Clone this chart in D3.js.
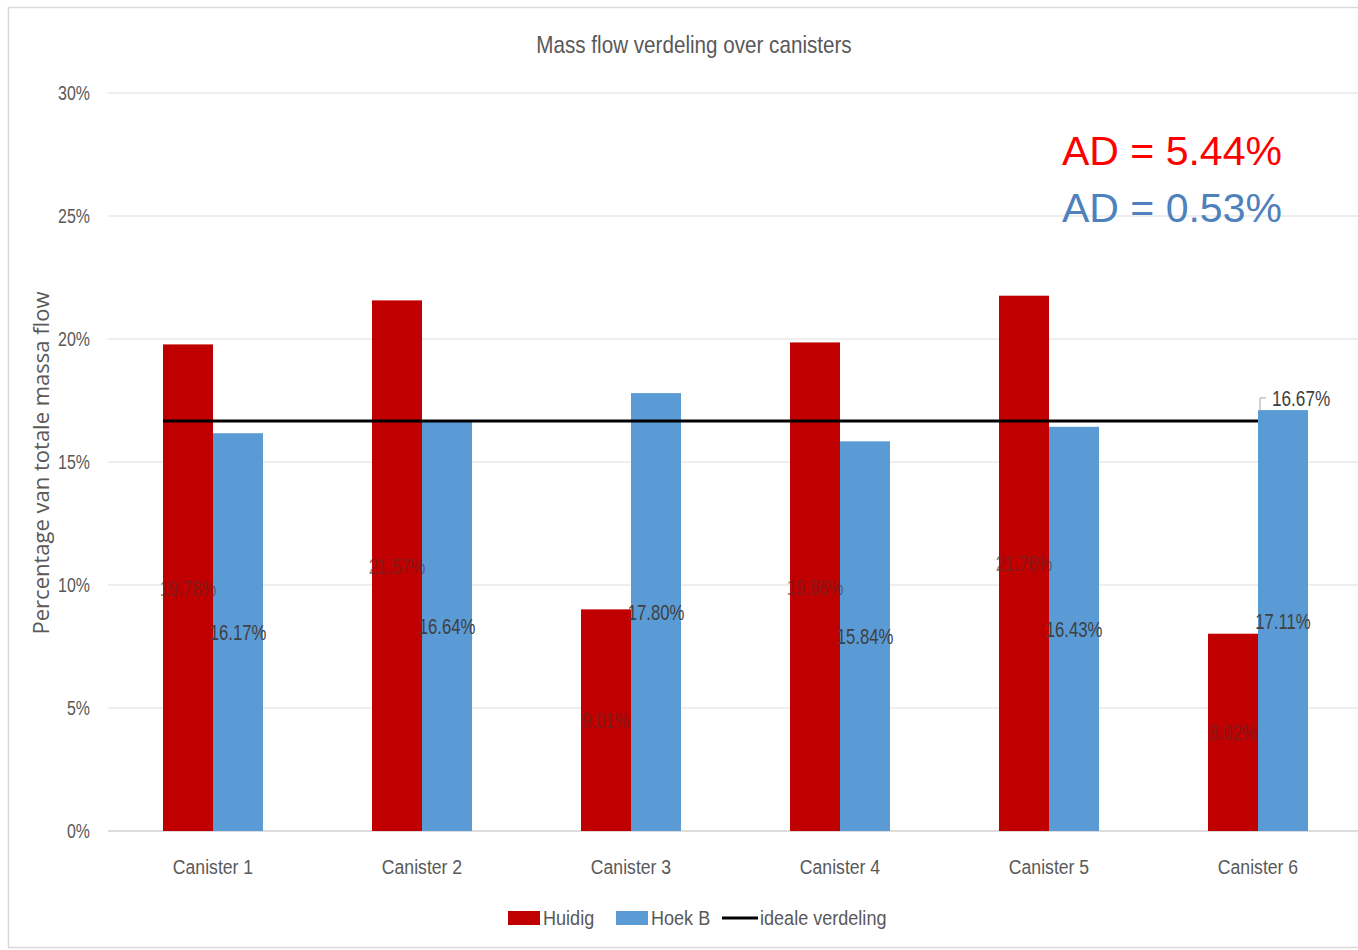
<!DOCTYPE html>
<html>
<head>
<meta charset="utf-8">
<script src="https://cdn.jsdelivr.net/npm/d3@7"></script>
<style>
  body { margin: 0; background: #fff; }
  text { font-family: "Liberation Sans", sans-serif; }
</style>
</head>
<body>
<div id="chart"></div>
<script>
// data
var canisters = ["Canister 1", "Canister 2", "Canister 3", "Canister 4", "Canister 5", "Canister 6"];
var huidig = [19.78, 21.57, 9.01, 19.86, 21.76, 8.02];
var hoekB = [16.17, 16.64, 17.80, 15.84, 16.43, 17.11];
var ideaal = 16.67;
var yTicks = [0, 5, 10, 15, 20, 25, 30];
var series = ["Huidig", "Hoek B", "ideale verdeling"];
var kleuren = ["#C00000", "#5B9BD5", "#000000"];

var width = 1358, height = 950;

var svg = d3.select("#chart").append("svg")
  .attr("width", width)
  .attr("height", height);

// smalle letters (zoals Calibri) nadoen: tekst horizontaal samendrukken
function smal(sel, px, py, sx) {
  sel.attr("transform", function(d, i) {
    return "translate(" + px(d, i) + "," + py(d, i) + ") scale(" + sx + ",1)";
  });
}

// kader
svg.append("rect")
  .attr("x", 8.5).attr("y", 7.5)
  .attr("width", 1360).attr("height", 940)
  .style("fill", "none").style("stroke", "#d9d9d9").style("stroke-width", 1.5);

var x = d3.scaleBand().domain(canisters).range([108.5, 1362.5]).paddingInner(0).paddingOuter(0);
var y = d3.scaleLinear().domain([0, 30]).range([831, 93]);
var barW = 50;

// gridlines
svg.append("g").selectAll("line")
  .data(yTicks)
  .enter().append("line")
  .attr("x1", 108).attr("x2", 1358)
  .attr("y1", function(d) { return y(d); })
  .attr("y2", function(d) { return y(d); })
  .style("stroke", function(d) { return d === 0 ? "#d0d0d0" : "#e8e8e8"; })
  .style("stroke-width", 1.5);

// y ticks
svg.append("g").selectAll("text")
  .data(yTicks)
  .enter().append("text")
  .attr("text-anchor", "end")
  .style("font-size", "21px")
  .style("fill", "#595959")
  .text(function(d) { return d + "%"; })
  .call(smal, function() { return 90; }, function(d) { return y(d) + 7; }, 0.76);

// titel
svg.append("text")
  .attr("text-anchor", "middle")
  .style("font-size", "24px")
  .style("fill", "#595959")
  .text("Mass flow verdeling over canisters")
  .call(smal, function() { return 694; }, function() { return 53; }, 0.86);

// y-as titel
svg.append("text")
  .attr("transform", "translate(49,463) rotate(-90)")
  .attr("text-anchor", "middle")
  .style("font-family", "'Open Sans', sans-serif")
  .style("font-size", "22px")
  .style("fill", "#595959")
  .text("Percentage van totale massa flow");

function center(i) { return x(canisters[i]) + x.bandwidth() / 2; }

// staven
var groepen = [huidig, hoekB];
groepen.forEach(function(vals, s) {
  svg.append("g").selectAll("rect")
    .data(vals)
    .enter().append("rect")
    .attr("x", function(d, i) { return center(i) - barW + s * barW; })
    .attr("y", function(d) { return y(d); })
    .attr("width", barW)
    .attr("height", function(d) { return y(0) - y(d); })
    .style("fill", kleuren[s]);
});

// ideale lijn
svg.append("line")
  .attr("x1", center(0) - barW)
  .attr("x2", center(canisters.length - 1))
  .attr("y1", y(ideaal)).attr("y2", y(ideaal))
  .style("stroke", "#000").style("stroke-width", 3);

// labels in de staven
groepen.forEach(function(vals, s) {
  svg.append("g").selectAll("text")
    .data(vals)
    .enter().append("text")
    .attr("text-anchor", "middle")
    .style("font-size", "22px")
    .style("fill", s === 0 ? "#5a2a2a" : "#404040")
    .style("opacity", s === 0 ? 0.6 : 1)
    .text(function(d) { return d.toFixed(2) + "%"; })
    .call(smal, function(d, i) { return center(i) - barW / 2 + s * barW; },
      function(d) { return y(d / 2) + 8; }, 0.76);
});

// label lijn
var lx = center(canisters.length - 1);
svg.append("path")
  .attr("d", "M" + (lx + 2) + "," + (y(ideaal) - 10) + "V" + (y(ideaal) - 23) + "h6")
  .style("fill", "none").style("stroke", "#a6a6a6").style("stroke-width", 1);
svg.append("text")
  .style("font-size", "22px")
  .style("fill", "#404040")
  .text(ideaal.toFixed(2) + "%")
  .call(smal, function() { return lx + 14; }, function() { return y(ideaal) - 15; }, 0.78);

// x labels
svg.append("g").selectAll("text")
  .data(canisters)
  .enter().append("text")
  .attr("text-anchor", "middle")
  .style("font-size", "21px")
  .style("fill", "#595959")
  .text(function(d) { return d; })
  .call(smal, function(d, i) { return center(i); }, function() { return 874; }, 0.84);

// legenda
var legX = [508, 616, 722];
var leg = svg.append("g");
series.forEach(function(naam, i) {
  if (i < 2) {
    leg.append("rect")
      .attr("x", legX[i]).attr("y", 911)
      .attr("width", 32).attr("height", 14)
      .style("fill", kleuren[i]);
  } else {
    leg.append("line")
      .attr("x1", legX[i]).attr("x2", legX[i] + 36)
      .attr("y1", 918).attr("y2", 918)
      .style("stroke", "#000").style("stroke-width", 3);
  }
  leg.append("text")
    .style("font-size", "21px")
    .style("fill", "#595959")
    .text(naam)
    .call(smal, function() { return legX[i] + (i < 2 ? 35 : 38); }, function() { return 925; }, 0.86);
});

// AD teksten
svg.append("text")
  .attr("x", 1062).attr("y", 165)
  .style("font-size", "41px")
  .style("fill", "#FF0000")
  .text("AD = 5.44%");
svg.append("text")
  .attr("x", 1062).attr("y", 222)
  .style("font-size", "41px")
  .style("fill", "#4F81BD")
  .text("AD = 0.53%");
</script>
</body>
</html>
